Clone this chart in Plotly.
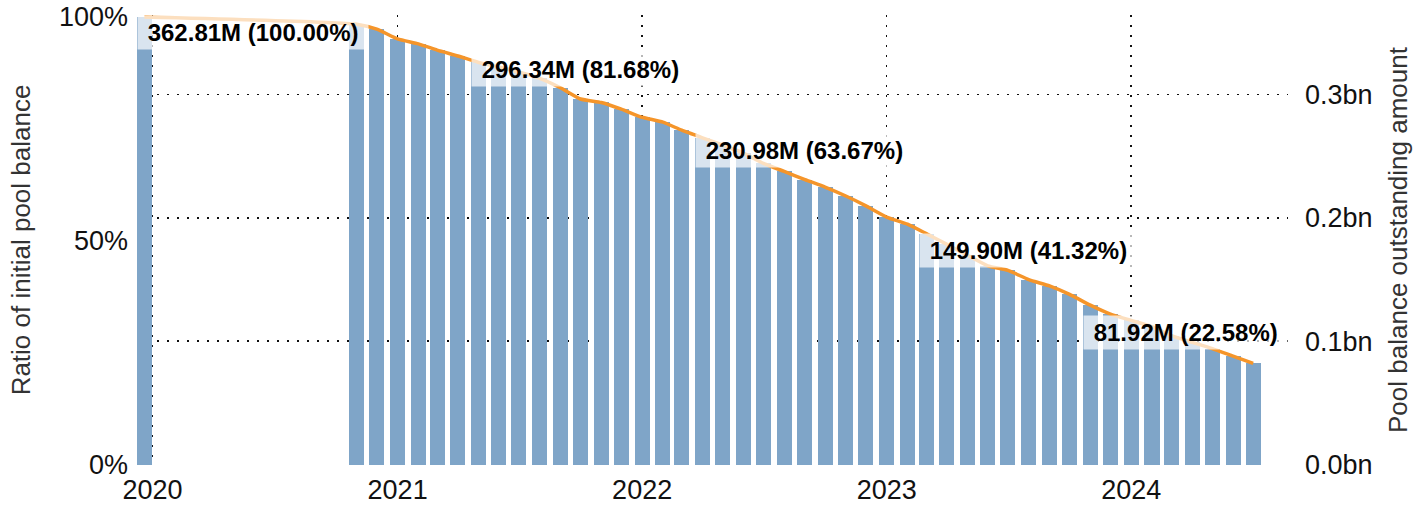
import plotly.graph_objects as go

# ---- data ----
initial_m = 362.806  # initial pool balance (M)
dates = [
    "2019-12-20",
    "2020-11-01", "2020-12-01",
    "2021-01-01", "2021-02-01", "2021-03-01", "2021-04-01", "2021-05-01", "2021-06-01",
    "2021-07-01", "2021-08-01", "2021-09-01", "2021-10-01", "2021-11-01", "2021-12-01",
    "2022-01-01", "2022-02-01", "2022-03-01", "2022-04-01", "2022-05-01", "2022-06-01",
    "2022-07-01", "2022-08-01", "2022-09-01", "2022-10-01", "2022-11-01", "2022-12-01",
    "2023-01-01", "2023-02-01", "2023-03-01", "2023-04-01", "2023-05-01", "2023-06-01",
    "2023-07-01", "2023-08-01", "2023-09-01", "2023-10-01", "2023-11-01", "2023-12-01",
    "2024-01-01", "2024-02-01", "2024-03-01", "2024-04-01", "2024-05-01", "2024-06-01",
    "2024-07-01",
]
balance_m = [
    362.806,
    357.00, 353.01,
    345.03, 341.04, 335.96, 331.24, 326.16, 322.17,
    318.18, 313.10, 305.48, 296.34, 293.51, 288.07,
    281.54, 277.55, 271.02, 264.85, 259.04, 252.51,
    244.17, 237.64, 230.984, 224.94, 217.68, 209.70,
    200.63, 194.83, 187.21, 178.50, 169.79, 161.09,
    157.46, 149.90, 144.76, 137.87, 129.16, 121.90,
    116.82, 111.74, 104.49, 99.05, 93.97, 87.80,
    81.92,
]
label_dates = ["2019-12-20", "2021-10-01", "2022-09-01", "2023-08-01", "2024-07-01"]
left_ticks = [0, 0.5, 1.0]
right_ticks = [0.0, 0.1, 0.2, 0.3]
x_range = ["2019-12-09", "2024-08-22"]

ratio = [b / initial_m for b in balance_m]
balance_bn = [b / 1000 for b in balance_m]

BAR = "#7fa5c8"
ORANGE = "#f5952a"
FONT = "Liberation Sans, Arial, Helvetica, sans-serif"
GRID = dict(showgrid=True, gridcolor="#111111", gridwidth=1.6, griddash="2px,8px")
top_pad = 1.0045
bar_width_ms = 22.4 * 86400000
NB = "\u00a0"

fig = go.Figure()
fig.add_trace(go.Bar(x=dates, y=balance_bn, yaxis="y", width=bar_width_ms,
                     marker=dict(color=BAR, line=dict(width=0)), showlegend=False))
fig.add_trace(go.Scatter(x=dates, y=ratio, yaxis="y2", mode="lines",
                         line=dict(color=ORANGE, width=3.5, shape="spline", smoothing=0.5),
                         showlegend=False))

annotations = []
for i, d in enumerate(label_dates):
    idx = dates.index(d)
    txt = "<b>%s%.2fM (%.2f%%)%s</b>" % (NB, balance_m[idx], ratio[idx] * 100, NB)
    common = dict(text=txt, showarrow=False, bgcolor="rgba(255,255,255,0.7)",
                  borderpad=3, font=dict(family=FONT, size=24, color="#000000"))
    if i == 0:
        annotations.append(dict(xref="paper", x=0, xanchor="left",
                                yref="paper", y=1, yanchor="top", **common))
    elif i == len(label_dates) - 1:
        annotations.append(dict(xref="paper", x=1, xanchor="right",
                                yref="y2", y=ratio[idx], yanchor="middle", yshift=31, **common))
    else:
        annotations.append(dict(xref="x", x=d, xanchor="center",
                                yref="y2", y=ratio[idx], yanchor="middle", yshift=29, **common))

fig.update_layout(
    width=1426, height=507,
    margin=dict(l=137, r=138, t=15, b=42, autoexpand=False),
    paper_bgcolor="white", plot_bgcolor="white",
    font=dict(family=FONT, size=27, color="#1a1a1a"),
    bargap=0,
    hovermode=False,
    annotations=annotations,
    xaxis=dict(type="date", range=x_range, dtick="M12", tick0="2020-01-01", tickformat="%Y",
               showline=False, zeroline=False, ticks="", ticklabelstandoff=6,
               ticklabeloverflow="allow",
               tickfont=dict(size=27, color="#111111"), **GRID),
    yaxis=dict(side="right", range=[-0.0004, initial_m / 1000 * top_pad],
               tickvals=right_ticks, ticktext=["%.1fbn" % v for v in right_ticks],
               showline=False, zeroline=False, ticks="", ticklabelstandoff=16,
               ticklabeloverflow="allow",
               tickfont=dict(size=27, color="#111111"),
               title=dict(text="Pool balance outstanding amount", standoff=17,
                          font=dict(size=26, color="#333333")),
               **GRID),
    yaxis2=dict(side="left", overlaying="y", range=[-0.0004 * 1000 / initial_m, top_pad],
                tickvals=left_ticks, tickformat=".0%", showgrid=False, zeroline=False,
                showline=False, ticks="", ticklabelstandoff=8,
                ticklabeloverflow="allow",
                tickfont=dict(size=27, color="#111111"),
                title=dict(text="Ratio of initial pool balance", standoff=20,
                           font=dict(size=26, color="#333333"))),
)

fig.write_html("out.html", config={"displayModeBar": False, "staticPlot": True},
               post_script="document.body.style.margin='0';document.body.style.overflow='hidden';")
